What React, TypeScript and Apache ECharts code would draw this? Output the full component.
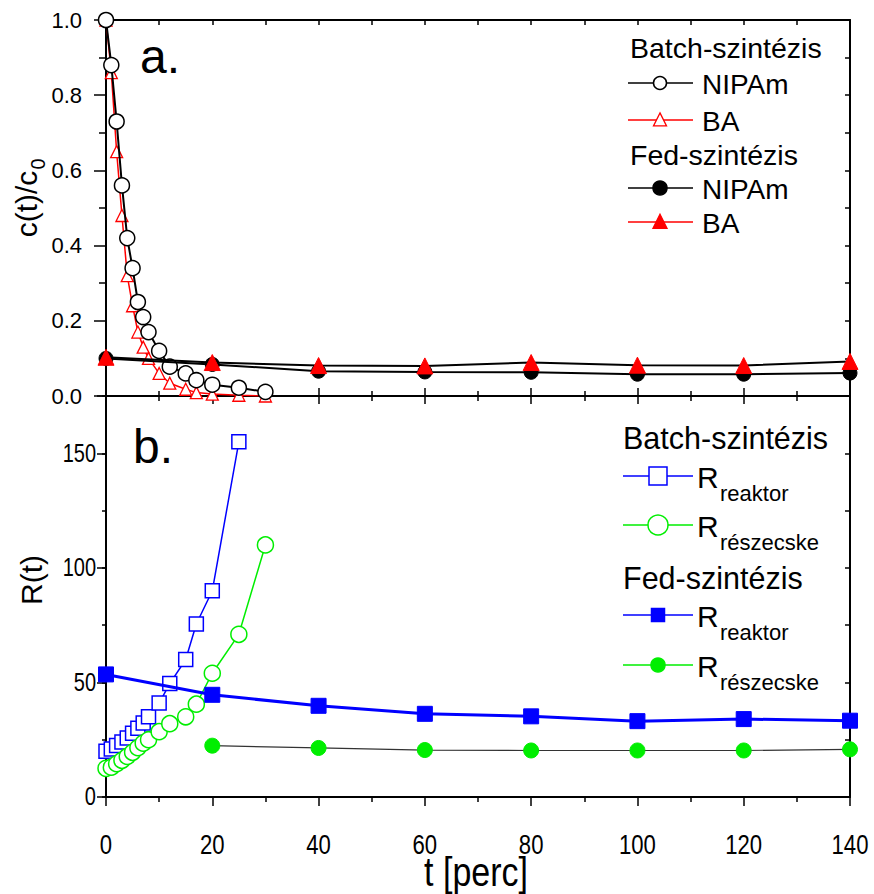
import React, { useEffect, useRef } from 'react';
import * as echarts from 'echarts';

// ---- Panel a: c(t)/c0 ----
const batchT = [0, 1, 2, 3, 4, 5, 6, 7, 8, 10, 12, 15, 17, 20, 25, 30];
const batchNIPAm = [1.0, 0.88, 0.73, 0.56, 0.42, 0.34, 0.25, 0.21, 0.17, 0.12, 0.078, 0.06, 0.042, 0.03, 0.022, 0.011];
const batchBA = [1.0, 0.86, 0.65, 0.48, 0.32, 0.24, 0.17, 0.13, 0.1, 0.06, 0.034, 0.018, 0.009, 0.005, 0.002, 0.0];
const fedT = [0, 20, 40, 60, 80, 100, 120, 140];
const fedNIPAm = [0.1, 0.084, 0.066, 0.064, 0.063, 0.058, 0.058, 0.061];
const fedBA = [0.103, 0.089, 0.081, 0.08, 0.089, 0.082, 0.081, 0.092];

// ---- Panel b: R(t) ----
const batchRT1 = [0, 1, 2, 3, 4, 5, 6, 7, 8, 10, 12, 15, 17, 20, 25];
const batchRreaktor = [20, 21, 22.5, 24, 25.7, 27.8, 30, 32.3, 35, 41, 49.5, 60, 75.5, 90, 155];
const batchRT2 = [0, 1, 2, 3, 4, 5, 6, 7, 8, 10, 12, 15, 17, 20, 25, 30];
const batchRreszecske = [12.5, 13, 14.5, 16, 17.7, 19.5, 21.5, 23.5, 25, 28.5, 32, 35, 40.5, 54, 71, 110];
const fedRT1 = [0, 20, 40, 60, 80, 100, 120, 140];
const fedRreaktor = [53.5, 44.6, 39.8, 36.3, 35.2, 33.1, 34.0, 33.3];
const fedRT2 = [20, 40, 60, 80, 100, 120, 140];
const fedRreszecske = [22.4, 21.4, 20.5, 20.3, 20.3, 20.3, 20.8];

// tick labels
const xTicks = [0, 20, 40, 60, 80, 100, 120, 140];
const yTicksB = [0, 50, 100, 150];

const SANS = "'Liberation Sans', Arial, Helvetica, sans-serif";
const BLUE = '#0000ff';
const GREEN = '#00ee00';
const RED = '#ff0000';

const zip = (xs: number[], ys: number[]) => xs.map((x, i) => [x, ys[i]]);

const tickStyle = { color: '#000', width: 1.5 };
const lineStyleAxis = { color: '#000', width: 2 };

const baseX = (gridIndex: number, position: string) => ({
  type: 'value',
  gridIndex,
  position,
  min: xTicks[0],
  max: xTicks[xTicks.length - 1],
  splitLine: { show: false },
  axisLine: { show: true, onZero: false, lineStyle: lineStyleAxis },
});

const baseY = (gridIndex: number, position: string, max: number) => ({
  type: 'value',
  gridIndex,
  position,
  min: 0,
  max,
  splitLine: { show: false },
  axisLine: { show: true, onZero: false, lineStyle: lineStyleAxis },
});

function staticGraphics() {
  const g: any[] = [];
  const txt = (x: number, y: number, text: string, size: number, extra: any = {}) =>
    g.push({
      type: 'text', x, y, z: 100,
      style: { text, font: `${size}px ${SANS}`, fill: '#000', textAlign: 'left', textVerticalAlign: 'middle', ...extra },
    });
  const seg = (x1: number, x2: number, y: number, color: string, w = 1.5) =>
    g.push({ type: 'line', z: 100, shape: { x1, y1: y, x2, y2: y }, style: { stroke: color, lineWidth: w } });
  const circ = (cx: number, cy: number, r: number, fill: string, stroke: string) =>
    g.push({ type: 'circle', z: 101, shape: { cx, cy, r }, style: { fill, stroke, lineWidth: 1.5 } });
  const tri = (cx: number, cy: number, s: number, fill: string, stroke: string) =>
    g.push({
      type: 'polygon', z: 101,
      shape: { points: [[cx, cy - s * 0.55], [cx + s * 0.5, cy + s * 0.45], [cx - s * 0.5, cy + s * 0.45]] },
      style: { fill, stroke, lineWidth: 1.3 },
    });
  const sq = (cx: number, cy: number, s: number, fill: string, stroke: string) =>
    g.push({ type: 'rect', z: 101, shape: { x: cx - s / 2, y: cy - s / 2, width: s, height: s }, style: { fill, stroke, lineWidth: 1.5 } });

  // panel a legend
  txt(630, 48, 'Batch-szintézis', 28.5);
  seg(628, 693, 83, '#000'); circ(660, 83, 6.5, '#fff', '#000'); txt(702, 84, 'NIPAm', 28);
  seg(628, 693, 120, RED); tri(660, 120, 13, '#fff', RED); txt(702, 121, 'BA', 28);
  txt(630, 155, 'Fed-szintézis', 28.5);
  seg(628, 693, 188, '#000'); circ(660, 188, 7, '#000', '#000'); txt(702, 189, 'NIPAm', 28);
  seg(628, 693, 222, RED); tri(660, 222, 14, RED, RED); txt(702, 223, 'BA', 28);

  // panel b legend
  const R = (y: number, sub: string) => {
    txt(697, y + 1, 'R', 30);
    txt(720, y + 17, sub, 22);
  };
  txt(623, 438, 'Batch-szintézis', 30.5);
  seg(623, 693, 476, BLUE); sq(658, 476, 18, '#fff', BLUE); R(476, 'reaktor');
  seg(623, 693, 525, GREEN); circ(658, 525, 10, '#fff', GREEN); R(525, 'részecske');
  txt(623, 578, 'Fed-szintézis', 30.5);
  seg(623, 693, 615, BLUE); sq(658, 615, 13, BLUE, BLUE); R(615, 'reaktor');
  seg(623, 693, 665, GREEN); circ(658, 665, 7, GREEN, GREEN); R(665, 'részecske');

  // panel labels
  g.push({ type: 'text', x: 140, y: 80, z: 100, style: { text: 'a.', font: `48px ${SANS}`, fill: '#000', textVerticalAlign: 'bottom' } });
  g.push({ type: 'text', x: 133, y: 470, z: 100, style: { text: 'b.', font: `48px ${SANS}`, fill: '#000', textVerticalAlign: 'bottom' } });

  // axis titles
  g.push({ type: 'text', x: 26, y: 204, rotation: Math.PI / 2, z: 100, style: { text: 'c(t)/c', font: `30px ${SANS}`, fill: '#000', textAlign: 'center', textVerticalAlign: 'middle' } });
  g.push({ type: 'text', x: 38, y: 164, rotation: Math.PI / 2, z: 100, style: { text: '0', font: `20px ${SANS}`, fill: '#000', textAlign: 'center', textVerticalAlign: 'middle' } });
  g.push({ type: 'text', x: 31, y: 580, rotation: Math.PI / 2, z: 100, style: { text: 'R(t)', font: `30px ${SANS}`, fill: '#000', textAlign: 'center', textVerticalAlign: 'middle' } });
  g.push({ type: 'text', x: 476, y: 872, scaleX: 0.85, z: 100, style: { text: 't [perc]', font: `40px ${SANS}`, fill: '#000', textAlign: 'center', textVerticalAlign: 'middle' } });
  return g;
}

export default function App() {
  const ref = useRef<HTMLDivElement>(null);
  useEffect(() => {
    document.body.style.margin = '0';
    const chart = echarts.init(ref.current!, null, { renderer: 'svg' });
    const option: any = {
      animation: false,
      backgroundColor: '#fff',
      grid: [
        { left: 106, top: 20, width: 744, height: 376 },
        { left: 106, top: 396, width: 744, height: 401 },
      ],
      xAxis: [
        {
          ...baseX(0, 'bottom'), interval: 20,
          axisTick: { show: true, inside: true, length: 8, lineStyle: tickStyle },
          minorTick: { show: true, splitNumber: 2, length: 5, lineStyle: tickStyle },
          axisLabel: { show: false },
        },
        {
          ...baseX(0, 'top'), interval: 10,
          axisTick: { show: true, inside: true, length: 5, lineStyle: tickStyle },
          axisLabel: { show: false },
        },
        {
          ...baseX(1, 'bottom'), interval: 20,
          axisTick: { show: true, inside: false, length: 9, lineStyle: tickStyle },
          minorTick: { show: true, splitNumber: 2, length: 5, lineStyle: tickStyle },
          axisLabel: { show: false },
        },
        {
          ...baseX(1, 'top'), interval: 20,
          axisTick: { show: true, inside: true, length: 8, lineStyle: tickStyle },
          minorTick: { show: true, splitNumber: 2, length: 5, lineStyle: tickStyle },
          axisLabel: { show: false },
        },
      ],
      yAxis: [
        {
          ...baseY(0, 'left', 1), interval: 0.2,
          axisTick: { show: true, inside: false, length: 12, lineStyle: tickStyle },
          minorTick: { show: true, splitNumber: 2, length: 7, lineStyle: tickStyle },
          axisLabel: { show: true, fontSize: 22, fontFamily: SANS, color: '#000', margin: 24, formatter: (v: number) => v.toFixed(1) },
        },
        {
          ...baseY(0, 'right', 1), interval: 0.1,
          axisTick: { show: true, inside: true, length: 5, lineStyle: tickStyle },
          axisLabel: { show: false },
        },
        {
          ...baseY(1, 'left', 175), interval: 50,
          axisTick: { show: true, inside: false, length: 9, lineStyle: tickStyle },
          axisLabel: { show: false },
        },
        {
          ...baseY(1, 'left', 175), interval: 25, axisLine: { show: false },
          axisTick: { show: true, inside: false, length: 4, lineStyle: tickStyle },
          axisLabel: { show: false },
        },
        {
          ...baseY(1, 'right', 175), interval: 25,
          axisTick: { show: true, inside: true, length: 5, lineStyle: tickStyle },
          axisLabel: { show: false },
        },
      ],
      series: [
        {
          type: 'line', name: 'Batch BA', xAxisIndex: 0, yAxisIndex: 0, data: zip(batchT, batchBA),
          symbol: 'triangle', symbolSize: 12, showAllSymbol: true,
          itemStyle: { color: '#fff', borderColor: RED, borderWidth: 1.3 },
          lineStyle: { color: RED, width: 1.5 }, z: 2,
        },
        {
          type: 'line', name: 'Batch NIPAm', xAxisIndex: 0, yAxisIndex: 0, data: zip(batchT, batchNIPAm),
          symbol: 'circle', symbolSize: 15, showAllSymbol: true,
          itemStyle: { color: '#fff', borderColor: '#000', borderWidth: 1.5 },
          lineStyle: { color: '#000', width: 2 }, z: 3,
        },
        {
          type: 'line', name: 'Fed NIPAm', xAxisIndex: 0, yAxisIndex: 0, data: zip(fedT, fedNIPAm),
          symbol: 'circle', symbolSize: 14, showAllSymbol: true,
          itemStyle: { color: '#000', borderColor: '#000', borderWidth: 1 },
          lineStyle: { color: '#000', width: 2 }, z: 4,
        },
        {
          type: 'line', name: 'Fed BA', xAxisIndex: 0, yAxisIndex: 0, data: zip(fedT, fedBA),
          symbol: 'triangle', symbolSize: 16, showAllSymbol: true,
          itemStyle: { color: RED, borderColor: RED, borderWidth: 1 },
          lineStyle: { color: '#000', width: 2 }, z: 5,
        },
        {
          type: 'line', name: 'Batch R reaktor', xAxisIndex: 2, yAxisIndex: 2, data: zip(batchRT1, batchRreaktor),
          symbol: 'rect', symbolSize: 14, showAllSymbol: true,
          itemStyle: { color: '#fff', borderColor: BLUE, borderWidth: 1.5 },
          lineStyle: { color: BLUE, width: 1.5 }, z: 2,
        },
        {
          type: 'line', name: 'Batch R részecske', xAxisIndex: 2, yAxisIndex: 2, data: zip(batchRT2, batchRreszecske),
          symbol: 'circle', symbolSize: 16, showAllSymbol: true,
          itemStyle: { color: '#fff', borderColor: GREEN, borderWidth: 1.5 },
          lineStyle: { color: GREEN, width: 1.5 }, z: 3,
        },
        {
          type: 'line', name: 'Fed R reaktor', xAxisIndex: 2, yAxisIndex: 2, data: zip(fedRT1, fedRreaktor),
          symbol: 'rect', symbolSize: 15, showAllSymbol: true,
          itemStyle: { color: BLUE, borderColor: BLUE, borderWidth: 1 },
          lineStyle: { color: BLUE, width: 3 }, z: 4,
        },
        {
          type: 'line', name: 'Fed R részecske', xAxisIndex: 2, yAxisIndex: 2, data: zip(fedRT2, fedRreszecske),
          symbol: 'circle', symbolSize: 15, showAllSymbol: true,
          itemStyle: { color: GREEN, borderColor: GREEN, borderWidth: 1 },
          lineStyle: { color: '#333', width: 1.2 }, z: 5,
        },
      ],
    };
    chart.setOption(option);

    // condensed tick labels placed through the axes' own scales
    const g = staticGraphics();
    const yZero = chart.convertToPixel({ yAxisIndex: 2 }, 0) as number;
    xTicks.forEach((v) => {
      const px = chart.convertToPixel({ xAxisIndex: 2 }, v) as number;
      g.push({
        type: 'text', x: px, y: yZero + 48, scaleX: 0.82, z: 100,
        style: { text: String(v), font: `27px ${SANS}`, fill: '#000', textAlign: 'center', textVerticalAlign: 'middle' },
      });
    });
    const xZero = chart.convertToPixel({ xAxisIndex: 2 }, 0) as number;
    yTicksB.forEach((v) => {
      const py = chart.convertToPixel({ yAxisIndex: 2 }, v) as number;
      g.push({
        type: 'text', x: xZero - 10, y: py, scaleX: 0.8, z: 100,
        style: { text: String(v), font: `25px ${SANS}`, fill: '#000', textAlign: 'right', textVerticalAlign: 'middle' },
      });
    });
    chart.setOption({ graphic: g });
    return () => chart.dispose();
  }, []);
  return <div ref={ref} style={{ width: 874, height: 894 }} />;
}
